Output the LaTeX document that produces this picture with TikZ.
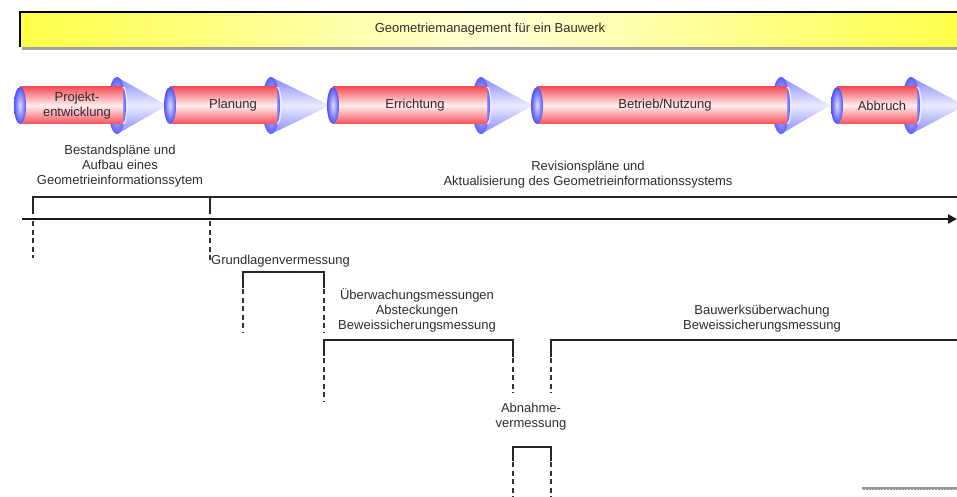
\documentclass[tikz,border=0pt]{standalone}
\usepackage{fontspec}
\setmainfont{Liberation Sans}
\usetikzlibrary{arrows.meta,patterns}
\definecolor{txt}{RGB}{45,45,45}
\definecolor{bannery}{RGB}{255,255,70}
\definecolor{bannerc}{RGB}{255,255,215}
\definecolor{cylred}{RGB}{245,80,90}
\definecolor{cylmid}{RGB}{255,238,238}
\definecolor{capblue}{RGB}{80,80,245}
\definecolor{capmid}{RGB}{220,220,255}
\definecolor{coneblue}{RGB}{135,135,250}
\definecolor{conemid}{RGB}{235,235,255}
\tikzset{
  lbl/.style={font=\fontsize{13}{15}\selectfont, text=txt, align=center, inner sep=0pt},
  bodyshade/.style={top color=cylred, bottom color=cylred, middle color=cylmid},
  capshade/.style={inner color=capmid, outer color=capblue},
  coneshade/.style={top color=coneblue, bottom color=coneblue, middle color=conemid},
  rimshade/.style={inner color=conemid, outer color=coneblue!70!blue},
  thickline/.style={line width=2.6pt, draw=black!85, line cap=rect},
  dashline/.style={line width=1.5pt, draw=black!80, dash pattern=on 5pt off 3.5pt},
}
% #1 left x, #2 body end x, #3 tip x, #4 node name, #5 label x, #6 label
\newcommand{\stagearrow}[6]{%
  \shade[coneshade] ({#2-6},77) -- (#3,105.5) -- ({#2-6},134) -- cycle;
  \shade[rimshade] ({#2-6},105.5) ellipse [x radius=9, y radius=28.5];
  \shade[bodyshade] (#1,87) rectangle (#2,124);
  \draw[conemid, line width=1.2pt] (#2,87) arc [start angle=90, end angle=-90, x radius=4, y radius=-18.5];
  \shade[capshade] (#1,105.5) ellipse [x radius=6, y radius=18.5];
  \node[lbl] (#4) at (#5,105.5) {#6};
}
\begin{document}
\begin{tikzpicture}[x=1pt,y=-1pt]
\useasboundingbox (0,0) rectangle (957,497);
\clip (0,0) rectangle (957,497);
% banner
\fill[gray!75] (22,46) rectangle (965,50);
\shade[left color=bannery, right color=bannery, middle color=bannerc] (20,12) rectangle (965,47);
\draw[black, line width=1.6pt] (20,47) -- (20,12) -- (965,12);
\node[lbl] (title) at (490,29.5) {Geometriemanagement für ein Bauwerk};
% stages
\stagearrow{20}{123}{167}{s1}{77}{Projekt-\\entwicklung}
\stagearrow{170}{277}{330}{s2}{233}{Planung}
\stagearrow{333}{487}{533}{s3}{415}{Errichtung}
\stagearrow{537}{787}{830}{s4}{665}{Betrieb/Nutzung}
\stagearrow{837}{917}{965}{s5}{882}{Abbruch}
% texts
\node[lbl] (bestand) at (120,166.5) {Bestandspläne und\\Aufbau eines\\Geometrieinformationssytem};
\node[lbl] (revision) at (588,174.5) {Revisionspläne und\\Aktualisierung des Geometrieinformationssystems};
\node[lbl, anchor=west] (grund) at (211,261) {Grundlagenvermessung};
\node[lbl] (ueberw) at (417,310.5) {Überwachungsmessungen\\Absteckungen\\Beweissicherungsmessung};
\node[lbl] (bauw) at (762,318.5) {Bauwerksüberwachung\\Beweissicherungsmessung};
\node[lbl] (abn) at (531,417) {Abnahme-\\vermessung};
% top brackets and timeline
\draw[thickline] (33,213) -- (33,197) -- (965,197);
\draw[thickline] (210,197) -- (210,213);
\coordinate (tl0) at (22,219);
\coordinate (tl1) at (957,219);
\draw[line width=2.6pt, draw=black!90, -{Triangle[length=9pt,width=9pt]}] (tl0) -- (tl1);
\draw[dashline] (33,221) -- (33,258);
\draw[dashline] (210,221) -- (210,262);
% Grundlagenvermessung bracket
\draw[thickline] (243,287) -- (243,272) -- (324,272) -- (324,287);
\draw[dashline] (243,289) -- (243,332);
\draw[dashline] (324,289) -- (324,332);
% Ueberwachung bracket
\draw[thickline] (324,355) -- (324,340) -- (513,340) -- (513,356);
\draw[dashline] (324,358) -- (324,402);
\draw[dashline] (513,358) -- (513,393);
% Bauwerksueberwachung bracket
\draw[thickline] (551,356) -- (551,340) -- (965,340);
\draw[dashline] (551,358) -- (551,393);
% Abnahme bracket
\draw[thickline] (513,460) -- (513,447) -- (551,447) -- (551,460);
\draw[dashline] (513,462) -- (513,497);
\draw[dashline] (551,462) -- (551,497);
% hatch strip
\fill[black!45] (862,486.5) rectangle (957,490);
\fill[pattern=crosshatch dots, pattern color=white] (862,486.5) rectangle (957,490);
\end{tikzpicture}
\end{document}
